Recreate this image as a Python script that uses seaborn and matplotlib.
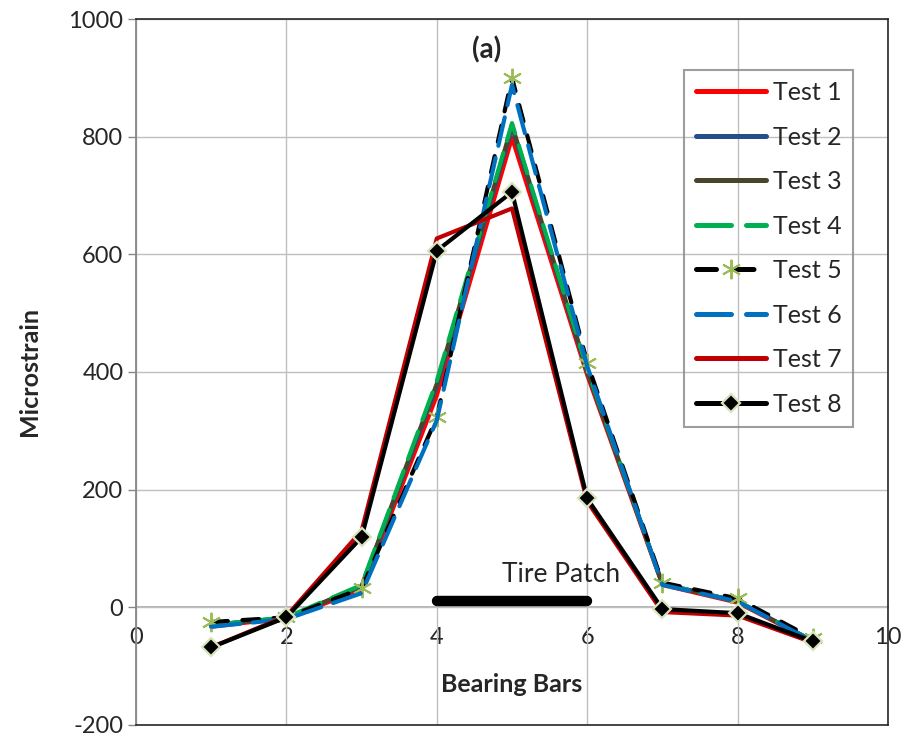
import matplotlib
matplotlib.use("Agg")
import matplotlib.pyplot as plt
import seaborn as sns
import pandas as pd

# Strain readings per bearing bar for each load test
bars = [1, 2, 3, 4, 5, 6, 7, 8, 9]
test1 = [-33, -18, 30, 360, 798, 395, 38, 8, -58]
test2 = [-30, -18, 35, 375, 815, 400, 40, 10, -57]
test3 = [-30, -18, 36, 380, 820, 402, 40, 10, -57]
test4 = [-30, -17, 38, 385, 823, 405, 40, 10, -57]
test5 = [-25, -17, 32, 323, 900, 416, 42, 15, -53]
test6 = [-33, -20, 24, 318, 888, 410, 38, 10, -58]
test7 = [-68, -15, 130, 627, 678, 180, -8, -14, -60]
test8 = [-68, -17, 119, 606, 706, 185, -3, -10, -58]
labels = ["Test 1", "Test 2", "Test 3", "Test 4", "Test 5", "Test 6", "Test 7", "Test 8"]

# Footprint of the tire patch
patch_x = [4, 6]
patch_y = [10, 10]

series = [test1, test2, test3, test4, test5, test6, test7, test8]
df = pd.DataFrame({
    "bar": bars * len(series),
    "strain": [v for s in series for v in s],
    "test": [lab for lab in labels for _ in bars],
})

sns.set_style("white")
plt.rcParams["font.family"] = ["Lato", "DejaVu Sans"]
plt.rcParams["axes.unicode_minus"] = False

styles = {
    "Test 1": dict(color="#FF0000", linestyle="-"),
    "Test 2": dict(color="#254F8A", linestyle="-"),
    "Test 3": dict(color="#4A452A", linestyle="-"),
    "Test 4": dict(color="#00B050", linestyle=(0, (7, 3))),
    "Test 5": dict(color="black", linestyle=(0, (4, 3.5)), marker=(6, 2, 0),
                   markersize=14, markeredgecolor="#9BBB59", markerfacecolor="#9BBB59",
                   markeredgewidth=1.4),
    "Test 6": dict(color="#0070C0", linestyle=(0, (7, 3))),
    "Test 7": dict(color="#C00000", linestyle="-"),
    "Test 8": dict(color="black", linestyle="-", marker="D", markersize=9.5,
                   markerfacecolor="black", markeredgecolor="#D7E4BD",
                   markeredgewidth=1.6),
}

fig = plt.figure(figsize=(9.12, 7.4), dpi=100)
ax = fig.add_axes([0.1491, 0.0203, 0.8246, 0.954])

for lab in labels:
    sub = df[df["test"] == lab]
    sns.lineplot(data=sub, x="bar", y="strain", ax=ax, label=lab, linewidth=3.0,
                 solid_capstyle="round", dash_capstyle="round", sort=False,
                 **styles[lab])

# Tire patch bar and its caption
ax.plot(patch_x, patch_y, color="black", linewidth=7.5, solid_capstyle="round", zorder=5)
ax.text(5.65, 35, "Tire Patch", ha="center", va="bottom", fontsize=19)
ax.text(0.466, 0.975, "(a)", transform=ax.transAxes, ha="center", va="top",
        fontsize=20, fontweight="bold")

ax.set_xlim(0, 10)
ax.set_ylim(-200, 1000)
ax.set_yticks(range(-200, 1001, 200))
ax.set_xticks(range(0, 11, 2))
ax.tick_params(axis="x", bottom=False, labelbottom=False)
ax.tick_params(axis="y", left=True, length=6, width=1, color="#868686",
               labelsize=17, pad=3)
ax.grid(True, color="#BFBFBF", linewidth=1)
ax.set_axisbelow(True)
ax.set_xlabel("")
ax.set_ylabel("Microstrain", fontsize=18, fontweight="bold", labelpad=20)

for side in ["top", "right", "bottom"]:
    ax.spines[side].set_color("#262626")
    ax.spines[side].set_linewidth(1.2)
ax.spines["left"].set_color("#868686")
ax.spines["left"].set_linewidth(1.3)

# Horizontal axis crossing at zero strain
zero_frac = (0 - (-200)) / 1200
sec = ax.secondary_xaxis(zero_frac)
sec.set_xticks(range(0, 11, 2))
sec.tick_params(axis="x", length=0, labelsize=17, pad=14)
sec.spines["bottom"].set_color("#A6A6A6")
sec.spines["bottom"].set_linewidth(1.2)
sec.set_xlabel("Bearing Bars", fontsize=18, fontweight="bold", labelpad=18)

leg = ax.legend(loc="upper right", bbox_to_anchor=(0.9535, 0.9278), frameon=True,
                fontsize=18, handlelength=2.8, handletextpad=0.3,
                labelspacing=0.86, borderpad=0.45, borderaxespad=0,
                fancybox=False)
leg.get_frame().set_facecolor("none")
leg.get_frame().set_edgecolor("#868686")
leg.get_frame().set_linewidth(1.5)
for line in leg.get_lines():
    line.set_linewidth(3.6)

fig.savefig("out.png", dpi=100)
